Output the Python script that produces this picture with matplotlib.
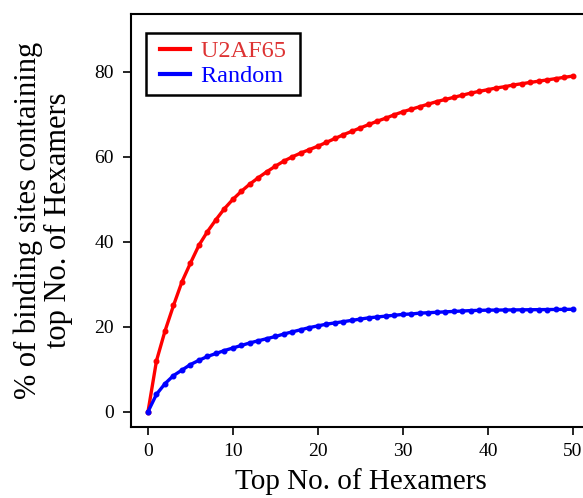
import matplotlib
matplotlib.use("Agg")
import matplotlib.pyplot as plt
from matplotlib.legend_handler import HandlerLine2D

plt.rcParams["font.family"] = ["Liberation Serif", "DejaVu Serif"]

# top N hexamers
top_n = list(range(0, 51))

u2af65 = [0.0, 12.0, 19.0, 25.0, 30.6, 35.0, 39.2, 42.4, 45.2, 47.8,
          50.0, 51.9, 53.6, 55.1, 56.5, 57.8, 59.0, 60.0, 60.9, 61.7,
          62.5, 63.4, 64.3, 65.2, 66.0, 66.8, 67.6, 68.4, 69.1, 69.9,
          70.6, 71.2, 71.8, 72.4, 73.0, 73.5, 74.0, 74.5, 75.0, 75.4,
          75.8, 76.2, 76.5, 76.9, 77.2, 77.5, 77.8, 78.1, 78.4, 78.7,
          79.0]

random_ctrl = [0.0, 4.1, 6.6, 8.5, 9.8, 11.1, 12.1, 13.0, 13.7, 14.4,
               15.0, 15.6, 16.2, 16.7, 17.2, 17.7, 18.3, 18.8, 19.3, 19.8,
               20.2, 20.6, 20.9, 21.2, 21.5, 21.8, 22.1, 22.3, 22.5, 22.7,
               22.9, 23.0, 23.2, 23.3, 23.4, 23.5, 23.6, 23.7, 23.8, 23.85,
               23.9, 23.92, 23.94, 23.96, 23.98, 24.0, 24.02, 24.04, 24.06, 24.08,
               24.1]

x_ticks = [0, 10, 20, 30, 40, 50]
y_ticks = [0, 20, 40, 60, 80]

fig = plt.figure(figsize=(5.83, 4.98), dpi=100)
ax = fig.add_axes([0.2247, 0.1426, 1.012 - 0.2247, 0.9719 - 0.1426])

ax.plot(top_n, u2af65, color="#ff0000", lw=2.4, marker="o", ms=3.3,
        label="U2AF65 ", clip_on=False)
ax.plot(top_n, random_ctrl, color="#0000ff", lw=2.4, marker="o", ms=3.3,
        label="Random ", clip_on=False)

ax.set_xlim(-2, 52)
ax.set_ylim(-3.6, 93.6)
ax.set_xticks(x_ticks)
ax.set_yticks(y_ticks)

for sp in ax.spines.values():
    sp.set_linewidth(1.5)
    sp.set_color("black")

ax.tick_params(axis="both", direction="out", length=5.5, width=1.2,
               labelsize=14, colors="black")
ax.tick_params(axis="x", pad=6)
ax.tick_params(axis="y", pad=7)

ax.set_xlabel("Top No. of Hexamers", fontsize=21, labelpad=6)
ax.set_ylabel("% of binding sites containing\ntop No. of Hexamers",
              fontsize=22, linespacing=1.05)
ax.yaxis.set_label_coords(-0.126, 0.5)

hmap = {ln: HandlerLine2D(xpad=0.29) for ln in ax.get_lines()}
leg = ax.legend(loc="upper left", bbox_to_anchor=(146 / 583, 1 - 33 / 498),
                bbox_transform=fig.transFigure, borderaxespad=0,
                fontsize=17.5, handlelength=1.52, handletextpad=0.45,
                labelspacing=0.12, borderpad=0.3, fancybox=False,
                framealpha=1, handler_map=hmap)
leg.get_frame().set_edgecolor("black")
leg.get_frame().set_linewidth(1.8)
for h in leg.legend_handles:
    h.set_marker("")
    h.set_linewidth(3)
leg.get_texts()[0].set_color("#dd3333")
leg.get_texts()[1].set_color("#0000ff")

fig.savefig("out.png", dpi=100)
